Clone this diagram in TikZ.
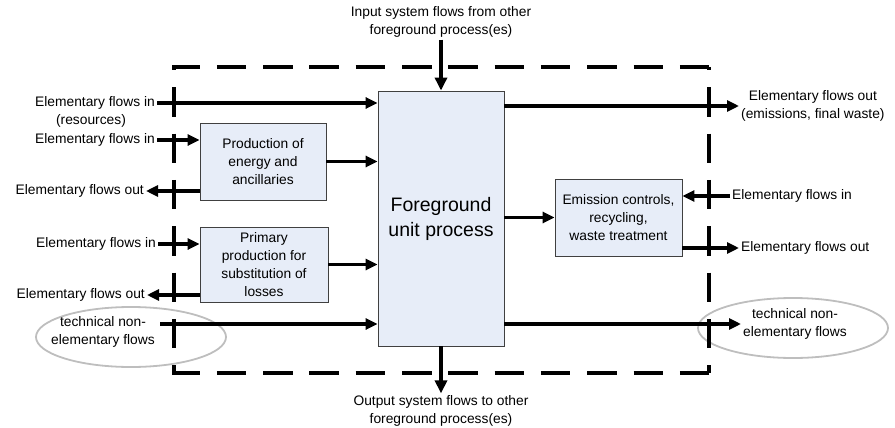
\documentclass[tikz,border=0pt]{standalone}
\usepackage{fontspec}
\setmainfont{Liberation Sans}
\usepackage{tikz}
\usetikzlibrary{arrows.meta,shapes.geometric}
\definecolor{boxblue}{RGB}{231,237,248}
\definecolor{boxline}{RGB}{64,64,64}
\definecolor{ellgray}{RGB}{190,190,190}

\begin{document}
\begin{tikzpicture}[x=1pt,y=-1pt,
  proc/.style={draw=boxline, line width=0.9pt, fill=boxblue, align=center, inner sep=0pt, font=\fontsize{13.8}{18}\selectfont},
  lbl/.style={inner sep=2pt, align=center, font=\fontsize{13.8}{18}\selectfont},
  flow/.style={line width=3.2pt, -{Triangle[length=12pt,width=11pt]}},
  bigflow/.style={line width=4pt, -{Triangle[length=13pt,width=12pt]}},
  sysline/.style={line width=4pt, dash pattern=on 29.5pt off 16.8pt},
  techell/.style={draw=ellgray, line width=1.8pt, ellipse, minimum width=190pt, minimum height=60pt, inner sep=0pt}]
\useasboundingbox (0,0) rectangle (895,428);
\node[techell] (ltech) at (131,337) {};
\node[techell] (rtech) at (793,328) {};
\draw[sysline, dash phase=1.5pt] (172,67) -- (711,67);
\draw[sysline, dash phase=1.5pt] (172,373) -- (711,373);
\draw[sysline, dash phase=26pt] (174,67) -- (174,373);
\draw[sysline, dash phase=26pt] (709,67) -- (709,373);
\node[proc, minimum width=126pt, minimum height=255pt, font=\fontsize{19.5}{25}\selectfont] (fg) at (441,218.5) {Foreground\\unit process};
\node[proc, minimum width=126pt, minimum height=77pt] (energy) at (263,161.5) {Production of\\energy and\\ancillaries};
\node[proc, minimum width=128pt, minimum height=75pt] (primary) at (264,264.5) {Primary\\production for\\substitution of\\losses};
\node[proc, minimum width=127pt, minimum height=77pt] (emis) at (618.5,217.5) {Emission controls,\\recycling,\\waste treatment};
\node[lbl] (inp) at (441,22) {Input system flows from other\\foreground process(es)};
\node[lbl] (outp) at (441,411) {Output system flows to other\\foreground process(es)};
\node[lbl, anchor=east] (inres) at (157,103) {Elementary flows in};
\node[lbl] (inres2) at (91,121) {(resources)};
\node[lbl, anchor=east] (ine) at (157,140) {Elementary flows in};
\node[lbl, anchor=east] (oute) at (146,191) {Elementary flows out};
\node[lbl, anchor=east] (inpr) at (158,244) {Elementary flows in};
\node[lbl, anchor=east] (outpr) at (147,295) {Elementary flows out};
\node[lbl] (ltechtxt) at (103,332) {technical non-\\elementary flows};
\coordinate (ltech-a) at (160,324);
\node[lbl, anchor=west] (outem) at (739,106) {Elementary flows out\\(emissions, final waste)};
\node[lbl, anchor=west] (inem) at (730,196) {Elementary flows in};
\node[lbl, anchor=west] (outem2) at (739,248) {Elementary flows out};
\node[lbl, anchor=west] (rtechtxt) at (741,324) {technical non-\\elementary flows};
\draw[bigflow] (inp) -- (fg);
\draw[bigflow] (fg) -- (outp);
\draw[flow] (inres.east) -- (inres.east -| fg.west);
\draw[flow] (ine.east) -- (ine.east -| energy.west);
\draw[flow] (energy.west |- oute.east) -- (oute.east);
\draw[flow] (energy.east) -- (energy.east -| fg.west);
\draw[flow] (inpr.east) -- (inpr.east -| primary.west);
\draw[flow] (primary.west |- outpr.east) -- (outpr.east);
\draw[flow] (primary.east) -- (primary.east -| fg.west);
\draw[flow] (ltech-a) -- (ltech-a -| fg.west);
\draw[flow] (fg.east |- outem.west) -- (outem.west);
\draw[flow] (fg.east |- emis.west) -- (emis.west);
\draw[flow] (inem.west) -- (inem.west -| emis.east);
\draw[flow] (emis.east |- outem2.west) -- (outem2.west);
\draw[flow] (fg.east |- rtechtxt.west) -- (rtechtxt.west);
\end{tikzpicture}
\end{document}
